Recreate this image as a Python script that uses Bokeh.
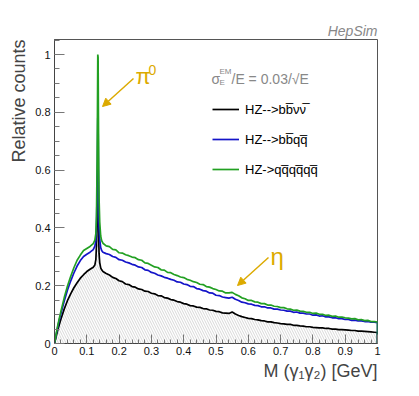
from bokeh.plotting import figure
from bokeh.models import Range1d, FixedTicker, Label, Legend, LegendItem, Arrow, NormalHead, Title
from bokeh.embed import file_html
from bokeh.resources import INLINE

# ---------------- data ----------------
mass_low = [0.000, 0.005, 0.010, 0.015, 0.020, 0.030, 0.040, 0.050, 0.060, 0.070,
            0.080, 0.090, 0.100, 0.110, 0.120, 0.125, 0.128, 0.130, 0.132, 0.133,
            0.134, 0.135, 0.136, 0.137, 0.138, 0.140, 0.143, 0.146, 0.150]
mass_high = [round(0.16 + 0.01 * i, 2) for i in range(85)]
mass_end = [1.0]

green_low = [0.000, 0.032, 0.062, 0.088, 0.112, 0.158, 0.198, 0.232, 0.262, 0.288,
             0.306, 0.322, 0.329, 0.336, 0.346, 0.358, 0.380, 0.440, 0.640, 0.800,
             1.000, 0.990, 0.790, 0.600, 0.500, 0.420, 0.372, 0.356, 0.347]
green_high = [0.338, 0.335, 0.326, 0.324, 0.314, 0.313, 0.307, 0.304, 0.299, 0.297,
              0.290, 0.288, 0.279, 0.277, 0.271, 0.265, 0.263, 0.255, 0.254, 0.246,
              0.245, 0.239, 0.235, 0.230, 0.228, 0.222, 0.219, 0.214, 0.211, 0.205,
              0.204, 0.197, 0.195, 0.190, 0.187, 0.182, 0.181, 0.175, 0.175, 0.177,
              0.170, 0.165, 0.158, 0.155, 0.149, 0.149, 0.144, 0.143, 0.138, 0.138,
              0.133, 0.133, 0.129, 0.128, 0.124, 0.124, 0.120, 0.119, 0.115, 0.116,
              0.112, 0.111, 0.108, 0.108, 0.104, 0.105, 0.101, 0.101, 0.097, 0.098,
              0.094, 0.095, 0.091, 0.091, 0.089, 0.088, 0.085, 0.086, 0.082, 0.083,
              0.079, 0.080, 0.076, 0.076, 0.074]

blue_low = [0.000, 0.030, 0.057, 0.082, 0.104, 0.146, 0.184, 0.216, 0.244, 0.268,
            0.287, 0.301, 0.309, 0.316, 0.325, 0.337, 0.356, 0.410, 0.530, 0.640,
            0.780, 0.770, 0.600, 0.470, 0.400, 0.360, 0.332, 0.322, 0.316]
blue_high = [0.311, 0.308, 0.301, 0.298, 0.290, 0.288, 0.282, 0.279, 0.274, 0.271,
             0.265, 0.263, 0.255, 0.253, 0.246, 0.243, 0.237, 0.234, 0.229, 0.226,
             0.222, 0.219, 0.213, 0.212, 0.206, 0.204, 0.198, 0.197, 0.190, 0.188,
             0.183, 0.181, 0.175, 0.174, 0.167, 0.166, 0.161, 0.159, 0.157, 0.160,
             0.153, 0.149, 0.143, 0.141, 0.137, 0.136, 0.132, 0.131, 0.127, 0.127,
             0.123, 0.123, 0.119, 0.119, 0.116, 0.115, 0.112, 0.112, 0.108, 0.109,
             0.105, 0.105, 0.102, 0.102, 0.098, 0.099, 0.095, 0.096, 0.092, 0.092,
             0.089, 0.089, 0.086, 0.086, 0.083, 0.083, 0.080, 0.081, 0.078, 0.078,
             0.076, 0.076, 0.074, 0.074, 0.072]

black_low = [0.000, 0.024, 0.046, 0.066, 0.085, 0.119, 0.148, 0.172, 0.193, 0.210,
             0.226, 0.238, 0.249, 0.257, 0.264, 0.272, 0.290, 0.340, 0.450, 0.520,
             0.580, 0.560, 0.450, 0.360, 0.310, 0.280, 0.262, 0.255, 0.249]
black_high = [0.242, 0.237, 0.229, 0.225, 0.217, 0.214, 0.206, 0.204, 0.197, 0.195,
              0.189, 0.187, 0.181, 0.180, 0.174, 0.172, 0.166, 0.165, 0.159, 0.157,
              0.152, 0.150, 0.145, 0.143, 0.138, 0.136, 0.131, 0.130, 0.126, 0.125,
              0.121, 0.120, 0.116, 0.115, 0.111, 0.110, 0.106, 0.105, 0.104, 0.109,
              0.102, 0.097, 0.093, 0.090, 0.087, 0.086, 0.083, 0.082, 0.079, 0.078,
              0.075, 0.075, 0.072, 0.071, 0.069, 0.068, 0.066, 0.066, 0.063, 0.063,
              0.061, 0.060, 0.058, 0.058, 0.056, 0.055, 0.054, 0.054, 0.052, 0.052,
              0.050, 0.050, 0.048, 0.048, 0.047, 0.046, 0.045, 0.045, 0.043, 0.043,
              0.042, 0.041, 0.040, 0.039, 0.038]
end_value = [0.0]

series_names = ["HZ-->bb\u0305\u03bd\u03bd\u0305",
                "HZ-->bb\u0305qq\u0305",
                "HZ->qq\u0305qq\u0305qq\u0305"]
series_colors = ["#000000", "#1414c8", "#22a022"]

x_ticks = [0.0, 0.1, 0.2, 0.3, 0.4, 0.5, 0.6, 0.7, 0.8, 0.9, 1.0]
x_tick_labels = ["0", "0.1", "0.2", "0.3", "0.4", "0.5", "0.6", "0.7", "0.8", "0.9", "1"]
y_ticks = [0.0, 0.2, 0.4, 0.6, 0.8, 1.0]
y_tick_labels = ["0", "0.2", "0.4", "0.6", "0.8", "1"]

mass = mass_low + mass_high
green = green_low + green_high
blue = blue_low + blue_high
black = black_low + black_high
assert len(mass) == len(green) == len(blue) == len(black)

FONT = "Liberation Sans"
GOLD = "#dcaa00"

# ---------------- figure ----------------
p = figure(width=411, height=388, output_backend="svg", toolbar_location=None,
           x_range=Range1d(0, 1), y_range=Range1d(0, 1.052),
           min_border_left=54, min_border_right=34, min_border_top=39, min_border_bottom=45)
p.grid.visible = False
p.outline_line_color = "#555555"
p.outline_line_width = 1
p.background_fill_color = "white"
p.border_fill_color = "white"

for ax, ticks, labels, minor in ((p.xaxis[0], x_ticks, x_tick_labels,
                                  [round(0.02 * i, 2) for i in range(51)]),
                                 (p.yaxis[0], y_ticks, y_tick_labels,
                                  [round(0.05 * i, 2) for i in range(22)])):
    ax.ticker = FixedTicker(ticks=ticks, minor_ticks=minor)
    ax.major_label_overrides = {t: l for t, l in zip(ticks, labels)}
    ax.major_tick_out = 0
    ax.minor_tick_out = 0
    ax.axis_line_color = "#444444"
    ax.major_tick_line_color = "#777777"
    ax.minor_tick_line_color = "#777777"
    ax.major_label_text_font = FONT
    ax.major_label_text_font_size = "11px"
    ax.major_label_text_color = "#111111"
p.xaxis.major_tick_in = 9
p.xaxis.minor_tick_in = 4
p.yaxis.major_tick_in = 10
p.yaxis.minor_tick_in = 5
p.xaxis.major_label_standoff = 3
p.yaxis.major_label_standoff = 4

# titles in the side panels
p.add_layout(Title(text="HepSim", align="right", text_font=FONT, text_font_size="14px",
                   text_font_style="italic", text_color="#888888", standoff=2), "above")
p.add_layout(Title(text="M (\u03b3\u2081\u03b3\u2082) [GeV]", align="right", text_font=FONT,
                   text_font_size="18px", text_font_style="normal", standoff=3), "below")
p.add_layout(Title(text="Relative counts", align="right", text_font=FONT,
                   text_font_size="18px", text_font_style="normal", standoff=8), "left")

# hatched area under the first series
p.varea(x=mass, y1=0, y2=black, fill_alpha=0, hatch_pattern="\\",
        hatch_color="#c8c8c8", hatch_scale=5, hatch_weight=0.7)

xs_full = mass + mass_end
renderers = []
for vals, color in zip((black, blue, green), series_colors):
    r = p.line(xs_full, vals + end_value, line_color=color, line_width=1.7)
    renderers.append(r)

legend = Legend(items=[LegendItem(label=n, renderers=[r]) for n, r in zip(series_names, renderers)],
                location=(158, 159), orientation="vertical", padding=0, margin=0, spacing=0,
                glyph_width=27, glyph_height=30, label_height=30, label_standoff=6,
                label_text_font=FONT, label_text_font_size="13px", label_text_color="#000000",
                border_line_alpha=0, background_fill_alpha=0)
p.add_layout(legend, "center")

def px2d(px, py):
    return (px - 54) / 323.0, (343 - py) / 289.0

def add_label(text, px, py, size, color="#000000", align="left", baseline="alphabetic",
              angle=0.0, style="normal"):
    x, y = px2d(px, py)
    p.add_layout(Label(x=x, y=y, text=text, text_font=FONT, text_font_size=size,
                       text_color=color, text_align=align, text_baseline=baseline,
                       angle=angle, text_font_style=style))

# resolution text
add_label("\u03c3", 211, 78, "14px", color="#888888")
add_label("E", 219, 82, "8px", color="#888888")
add_label("EM", 219, 71, "8px", color="#888888")
add_label("/E = 0.03/\u221aE", 231, 78, "14px", color="#888888")
# particle annotations
add_label("\u03c0", 135, 76, "22px", color=GOLD)
add_label("0", 148, 69, "14px", color=GOLD)
add_label("\u03b7", 270, 256, "24px", color=GOLD)

for (sx, sy), (ex, ey) in (((133, 78), (102, 106)), ((268, 257), (237, 285))):
    x0, y0 = px2d(sx, sy)
    x1, y1 = px2d(ex, ey)
    p.add_layout(Arrow(x_start=x0, y_start=y0, x_end=x1, y_end=y1, line_color=GOLD,
                       line_width=1.5,
                       end=NormalHead(size=8, fill_color=GOLD, line_color=GOLD)))

open("out.html", "w").write(file_html(p, INLINE))
